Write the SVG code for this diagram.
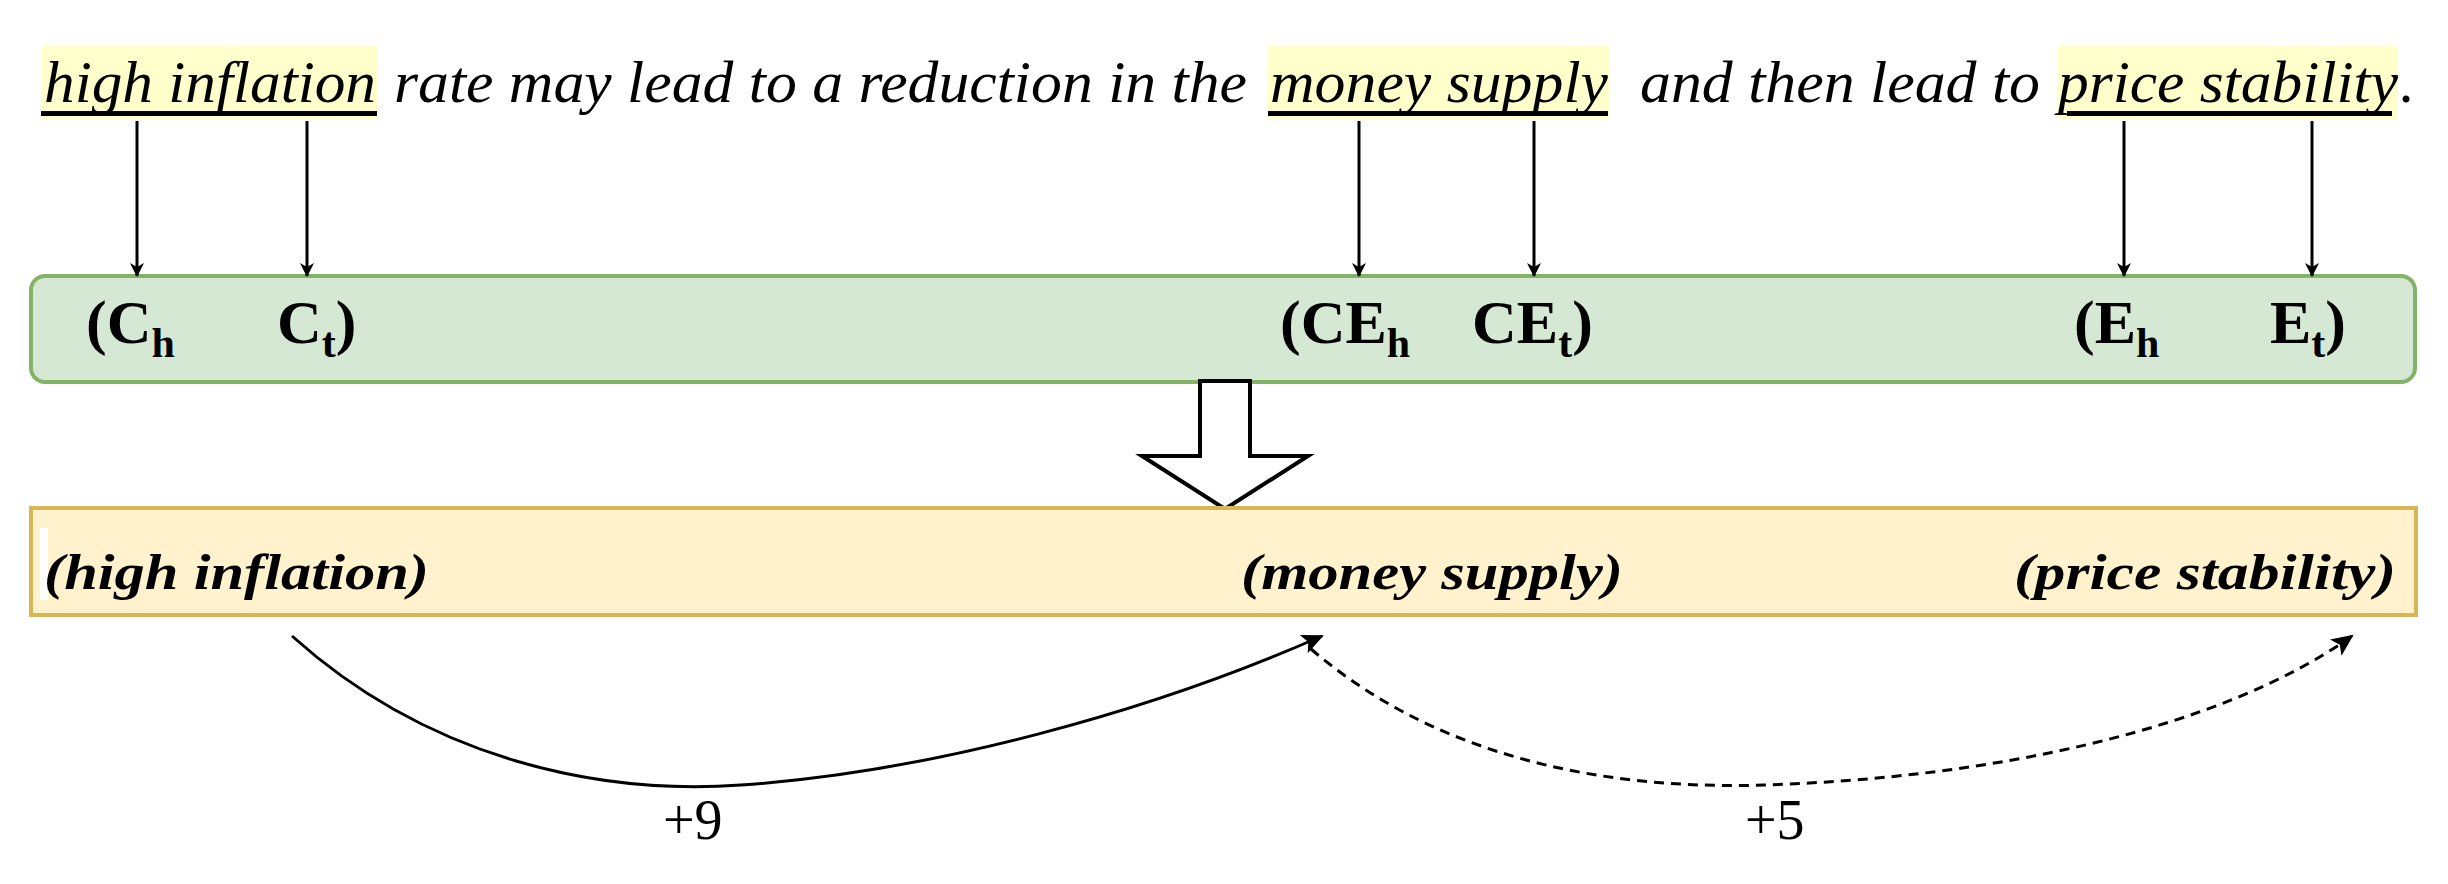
<svg xmlns="http://www.w3.org/2000/svg" width="2448" height="884" viewBox="0 0 2448 884">
<style>
.s{font-family:"Liberation Serif","Times New Roman",serif;font-style:italic;font-size:60px;fill:#000}
.b{font-family:"Liberation Serif","Times New Roman",serif;font-weight:bold;font-size:62px;fill:#000}
.sub{font-size:42px}
.bi{font-family:"Liberation Serif","Times New Roman",serif;font-weight:bold;font-style:italic;font-size:50px;fill:#000}
.n{font-family:"Liberation Serif","Times New Roman",serif;font-size:56px;fill:#000}
.hl{fill:#ffffcc}
.ul{fill:#000}
.ar{stroke:#000;stroke-width:3;fill:none}
</style>
<defs>
<marker id="ah" markerWidth="14" markerHeight="20" refX="13" refY="7" orient="auto" markerUnits="userSpaceOnUse"><path d="M0,0 L14,7 L0,14 L4,7 Z" fill="#000"/></marker>
<marker id="ah2" markerWidth="24" markerHeight="24" refX="20" refY="10" orient="auto" markerUnits="userSpaceOnUse"><path d="M0,0 L22,10 L0,20 L5,10 Z" fill="#000"/></marker>
</defs>
<g id="sentence">
<rect class="hl" x="41" y="46" width="337" height="73"/>
<rect class="hl" x="1268" y="46" width="341" height="73"/>
<rect class="hl" x="2057" y="46" width="341" height="73"/>
<rect class="ul" x="41" y="111" width="336" height="5"/>
<rect class="ul" x="1268" y="111" width="340" height="5"/>
<rect class="ul" x="2067" y="111" width="325" height="5"/>
<text class="s" x="44" y="102" textLength="332" lengthAdjust="spacingAndGlyphs">high inflation</text>
<text class="s" x="394" y="102" textLength="853" lengthAdjust="spacingAndGlyphs">rate may lead to a reduction in the</text>
<text class="s" x="1270" y="102" textLength="338" lengthAdjust="spacingAndGlyphs">money supply</text>
<text class="s" x="1640" y="102" textLength="400" lengthAdjust="spacingAndGlyphs">and then lead to</text>
<text class="s" x="2058" y="102" textLength="340" lengthAdjust="spacingAndGlyphs">price stability</text>
<text class="s" x="2400" y="102">.</text>
</g>
<g id="span-box">
<rect x="31" y="276" width="2384" height="106" rx="14" fill="#d5e8d4" stroke="#82b366" stroke-width="4"/>
<text class="b" x="86" y="343">(C<tspan class="sub" dy="14">h</tspan></text>
<text class="b" x="277" y="343">C<tspan class="sub" dy="14">t</tspan><tspan dy="-14">)</tspan></text>
<text class="b" x="1280" y="343">(CE<tspan class="sub" dy="14">h</tspan></text>
<text class="b" x="1472" y="343">CE<tspan class="sub" dy="14">t</tspan><tspan dy="-14">)</tspan></text>
<text class="b" x="2074" y="343">(E<tspan class="sub" dy="14">h</tspan></text>
<text class="b" x="2270" y="343">E<tspan class="sub" dy="14">t</tspan><tspan dy="-14">)</tspan></text>
</g>
<g id="block-arrow">
<path d="M1200,381 L1250,381 L1250,456 L1308,456 L1225,509 L1142,456 L1200,456 Z" fill="#fff" stroke="#000" stroke-width="4"/>
</g>
<g id="entity-box">
<rect x="31" y="508" width="2385" height="107" fill="#fff2cc" stroke="#d6b656" stroke-width="4"/>
<rect x="40" y="528" width="8" height="72" fill="#fff"/>
<text class="bi" x="44" y="589" textLength="385" lengthAdjust="spacingAndGlyphs">(high inflation)</text>
<text class="bi" x="1241" y="589" textLength="382" lengthAdjust="spacingAndGlyphs">(money supply)</text>
<text class="bi" x="2014" y="589" textLength="382" lengthAdjust="spacingAndGlyphs">(price stability)</text>
</g>
<g id="connectors">
<line class="ar" x1="137" y1="121" x2="137" y2="276" marker-end="url(#ah)"/>
<line class="ar" x1="307" y1="121" x2="307" y2="276" marker-end="url(#ah)"/>
<line class="ar" x1="1359" y1="121" x2="1359" y2="276" marker-end="url(#ah)"/>
<line class="ar" x1="1534" y1="121" x2="1534" y2="276" marker-end="url(#ah)"/>
<line class="ar" x1="2124" y1="121" x2="2124" y2="276" marker-end="url(#ah)"/>
<line class="ar" x1="2312" y1="121" x2="2312" y2="276" marker-end="url(#ah)"/>
<path class="ar" d="M292,636 C430,760 600,795 741,785 C930,772 1150,712 1322,636" marker-end="url(#ah2)"/>
<path class="ar" d="M1311,649 C1440,760 1610,790 1764,785 C1990,778 2220,730 2352,636" stroke-dasharray="10 7" marker-end="url(#ah2)"/>
<text class="n" x="663" y="839">+9</text>
<text class="n" x="1745" y="839">+5</text>
</g>
</svg>
